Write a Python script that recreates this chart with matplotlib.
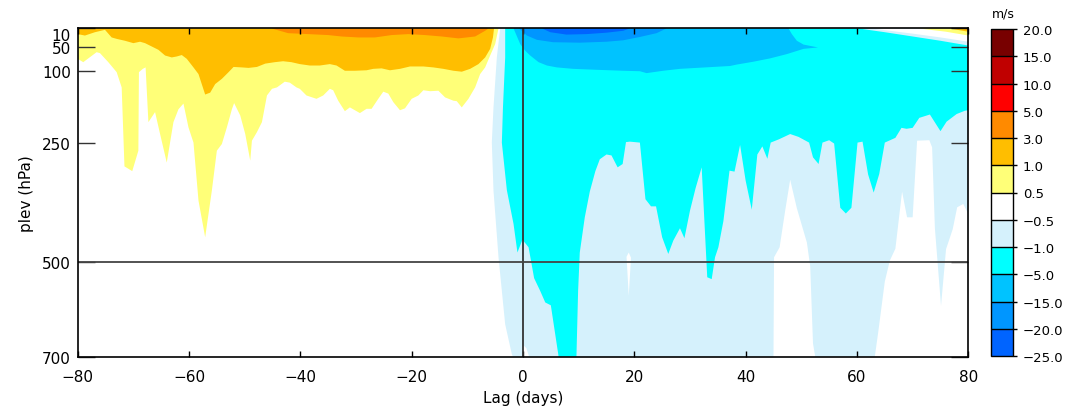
import matplotlib
matplotlib.use("Agg")
import matplotlib.pyplot as plt
import matplotlib.colorbar as mcbar
from matplotlib.colors import ListedColormap, BoundaryNorm

# shading levels (m/s) and their colours, low to high
levels = [-25, -20, -15, -5, -1, -0.5, 0.5, 1, 3, 5, 10, 15, 20]
colors = ["#0064ff", "#0096ff", "#00c3ff", "#00ffff", "#d5f1fc", "#ffffff",
          "#ffff78", "#ffbe00", "#ff8a00", "#ff0000", "#c00000", "#780000"]

xticks = [-80, -60, -40, -20, 0, 20, 40, 60, 80]
yticks = [10, 50, 100, 250, 500, 700]

# outlines as (lag in days, pressure in hPa);
# every region hangs from the 10 hPa lid down to its outline
yellow = [(-80, 10), (-80, 74), (-79.0, 81), (-76.6, 60), (-76.0, 62), (-74.5, 81),
          (-73.0, 102), (-72.1, 134), (-71.6, 300), (-70.2, 310), (-69.1, 267),
          (-69.0, 102), (-68.3, 95), (-67.8, 92), (-67.3, 207), (-66.1, 186),
          (-65.2, 232), (-64.0, 292), (-62.8, 207), (-61.9, 180), (-61.0, 168),
          (-60.1, 218), (-59.2, 250), (-58.3, 372), (-57.1, 449), (-55.9, 351),
          (-55.0, 267), (-54.1, 253), (-53.2, 218), (-52.3, 180), (-51.9, 167),
          (-50.8, 193), (-49.9, 232), (-49.0, 288), (-48.7, 246), (-47.8, 228),
          (-46.9, 207), (-46.0, 151), (-45.1, 137), (-44.2, 134), (-42.8, 122),
          (-41.9, 124), (-40.7, 134), (-40.1, 137), (-38.9, 151), (-37.1, 158),
          (-35.9, 151), (-34.7, 137), (-34.1, 140), (-33.2, 162), (-32.0, 184),
          (-31.1, 176), (-29.3, 188), (-28.1, 179), (-27.2, 179), (-26.0, 158),
          (-25.1, 143), (-24.2, 147), (-23.3, 165), (-22.1, 182), (-21.2, 178),
          (-20.0, 158), (-18.8, 151), (-17.9, 140), (-16.7, 142), (-15.2, 141),
          (-14.0, 155), (-12.5, 162), (-11.9, 163), (-11.0, 176), (-9.8, 158),
          (-8.6, 134), (-7.7, 106), (-6.8, 92), (-5.9, 67), (-5.0, 43), (-4.4, 10)]
orange_yellow = [(-80, 10), (-80, 22), (-78.7, 25), (-76.9, 18), (-75.1, 13), (-73.9, 29),
                 (-73.0, 32), (-71.5, 36), (-70.0, 41), (-68.8, 38), (-67.9, 41),
                 (-66.7, 48), (-65.5, 55), (-64.3, 67), (-63.1, 71), (-62.2, 69),
                 (-61.3, 66), (-60.4, 74), (-59.2, 92), (-58.3, 106), (-57.1, 149),
                 (-56.2, 145), (-55.3, 127), (-54.1, 116), (-52.9, 102), (-52.0, 91),
                 (-50.5, 92), (-49.3, 93), (-47.8, 91), (-46.3, 84), (-44.6, 81),
                 (-43.1, 79), (-41.6, 81), (-40.1, 85), (-38.3, 88), (-36.5, 88),
                 (-34.7, 85), (-33.5, 88), (-32.0, 99), (-30.2, 99), (-28.1, 98),
                 (-26.9, 95), (-25.4, 94), (-23.9, 98), (-22.1, 95), (-20.3, 90),
                 (-17.9, 90), (-16.1, 92), (-14.3, 95), (-12.5, 99), (-11.0, 101),
                 (-9.5, 95), (-8.0, 85), (-6.8, 71), (-5.9, 53), (-5.4, 29), (-5.2, 10)]
orange = [(-45.2, 10), (-42.2, 20), (-38.6, 22), (-35.0, 24), (-32.6, 27), (-29.6, 29),
          (-26.6, 29), (-23.6, 24), (-20.6, 22), (-17.6, 24), (-14.6, 27), (-11.6, 31),
          (-8.6, 27), (-6.8, 15), (-6.2, 10)]

light_blue = [(-4.1, 10), (-4.7, 71), (-5.3, 176), (-5.6, 250), (-5.3, 351), (-4.4, 491),
              (-3.2, 632), (-2.0, 695), (-1.8, 700), (45.0, 700), (45.1, 491),
              (46.1, 470), (47.1, 393), (48.0, 328), (49.2, 388), (51.0, 460),
              (51.6, 510), (52.1, 672), (52.5, 700), (63.2, 700), (63.8, 650),
              (65.0, 542), (65.9, 498), (66.9, 473), (68.1, 353), (69.0, 407),
              (70.0, 407), (70.8, 246), (73.0, 245), (73.5, 260), (74.0, 430),
              (75.1, 593), (76.0, 474), (77.2, 432), (78.0, 386), (79.1, 379),
              (80, 400), (80, 10)]
cyan = [(-3.2, 10), (-3.2, 71), (-3.6, 176), (-3.8, 250), (-2.9, 350), (-1.7, 421),
        (-1.0, 481), (-0.1, 454), (1.0, 470), (2.0, 535), (3.1, 562), (4.0, 586),
        (5.0, 592), (5.7, 646), (6.4, 700), (9.6, 700), (9.9, 562), (10.2, 481),
        (11.1, 407), (12.0, 353), (13.0, 310), (13.8, 285), (15.0, 275), (15.9, 277),
        (17.0, 302), (17.9, 295), (18.5, 249), (19.2, 248), (21.0, 250), (22.0, 369),
        (23.0, 384), (23.9, 384), (25.0, 449), (26.1, 484), (27.0, 456), (28.2, 430),
        (29.0, 451), (30.0, 393), (31.0, 346), (32.1, 302), (33.1, 533), (33.9, 537),
        (34.5, 491), (35.1, 470), (36.0, 415), (37.1, 309), (38.0, 311), (39.0, 255),
        (40.0, 330), (41.1, 391), (42.1, 275), (43.0, 258), (43.9, 284), (44.5, 250),
        (46.0, 243), (48.0, 232), (49.5, 238), (51.4, 250), (52.1, 281), (53.1, 295),
        (53.8, 250), (55.0, 245), (55.9, 252), (57.0, 387), (58.0, 399), (59.0, 387),
        (60.1, 250), (61.0, 248), (62.0, 317), (63.0, 355), (64.0, 316), (65.0, 250),
        (66.9, 240), (68.0, 219), (68.9, 221), (70.0, 219), (71.2, 198), (73.1, 191),
        (75.0, 226), (76.1, 206), (77.9, 190), (79.4, 183), (80, 182), (80, 10)]
sky_blue = [(-1.7, 10), (-0.5, 43), (0.4, 57), (1.3, 67), (2.8, 81), (4.3, 88), (6.1, 92),
            (9.0, 95), (13.2, 97), (18.0, 99), (21.0, 100), (22.2, 104), (25.2, 99),
            (28.2, 95), (31.2, 93), (34.2, 91), (37.2, 89), (38.4, 86), (41.4, 80),
            (44.4, 73), (47.4, 64), (50.4, 53), (53.0, 50), (50.4, 44), (49.2, 36),
            (48.3, 22), (47.7, 10)]
blue = [(-0.7, 10), (0.7, 25), (2.5, 34), (5.4, 39), (10.2, 40), (15.0, 38), (18.0, 35),
        (21.0, 28), (24.0, 20), (25.8, 10)]
dark_blue = [(3.4, 10), (4.9, 18), (7.8, 23), (11.4, 22), (15.0, 19), (18.0, 15), (19.2, 10)]

# small patches drawn on top
white_foot = [(0.0, 675), (0.6, 682), (1.1, 700), (0.0, 700)]
white_sliver = [(18.6, 490), (19.0, 481), (19.4, 492), (19.0, 572)]
corner_blue = [(60.2, 10), (65, 18), (70, 27), (75, 36), (80, 46), (80, 10)]
corner_white = [(62.5, 10), (70, 21), (75, 29), (80, 38), (80, 10)]
corner_yellow = [(71, 10), (76, 17), (80, 25), (80, 10)]
corner_oy = [(76.5, 10), (80, 17), (80, 10)]
corner_orange = [(78.8, 10), (80, 13), (80, 10)]

# (outline, a value inside it) in drawing order
regions = [(yellow, 0.7), (orange_yellow, 2), (orange, 4),
           (light_blue, -0.7), (cyan, -3), (sky_blue, -10), (blue, -17), (dark_blue, -22),
           (white_foot, 0), (white_sliver, 0),
           (corner_blue, -0.7), (corner_white, 0), (corner_yellow, 0.7),
           (corner_oy, 2), (corner_orange, 4)]

cmap = ListedColormap(colors)
norm = BoundaryNorm(levels, cmap.N)

fig = plt.figure(figsize=(10.65, 4.10), dpi=100)
ax = fig.add_axes([77.7 / 1065, 1 - 357.7 / 410, 890.6 / 1065, 328.3 / 410])

for outline, val in regions:
    lags = [pt[0] for pt in outline]
    plevs = [pt[1] for pt in outline]
    ax.fill(lags, plevs, color=cmap(norm(val)), lw=0)

ax.axvline(0, color="#333333", lw=1.3)
ax.axhline(500, color="#444444", lw=1.3)

ax.set_xlim(-80, 80)
ax.set_ylim(700, 10)
ax.set_xticks(xticks)
ax.set_xticklabels([str(v).replace("-", "\u2212") for v in xticks], fontsize=11)
ax.set_yticks(yticks)
ylabs = ax.set_yticklabels([str(v) for v in yticks], fontsize=11)
ylabs[0].set_va("top")
ax.tick_params(axis="x", direction="in", length=4.5, width=1, top=True, pad=9)
ax.tick_params(axis="y", direction="in", length=12, width=1, right=True, pad=5,
               color="#333333")
for s in ax.spines.values():
    s.set_linewidth(1.2)
ax.set_xlabel("Lag (days)", fontsize=11, labelpad=4)
ax.set_ylabel("plev (hPa)", fontsize=11, labelpad=6)

cax = fig.add_axes([991 / 1065, 1 - 357 / 410, 22 / 1065, 327 / 410])
cb = mcbar.ColorbarBase(cax, cmap=cmap, norm=norm, boundaries=levels, ticks=levels,
                        spacing="uniform", drawedges=True)
cb.set_ticklabels([f"{v:.1f}".replace("-", "\u2212") for v in levels])
cb.ax.tick_params(labelsize=9.5, length=3, width=1, pad=4)
cb.outline.set_linewidth(1.0)
cb.dividers.set_linewidth(1.0)
fig.text(1003 / 1065, 1 - 14 / 410, "m/s", ha="center", va="center", fontsize=9)

fig.savefig("out.png", dpi=100)
